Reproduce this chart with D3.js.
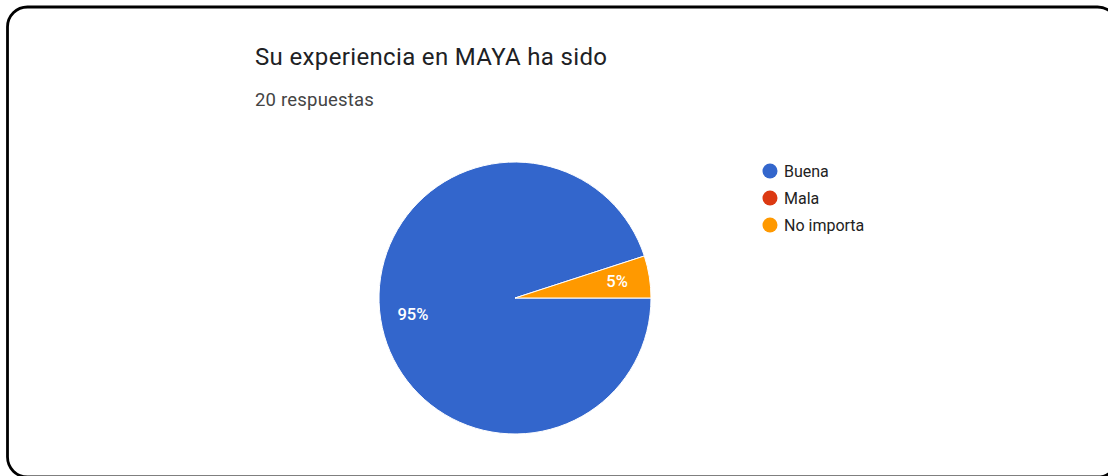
<!DOCTYPE html>
<html>
<head>
<meta charset="utf-8">
<script src="https://cdn.jsdelivr.net/npm/d3@7"></script>
<style>
  html, body { margin: 0; padding: 0; background: #fff; }
  svg { display: block; }
</style>
</head>
<body>
<svg id="chart" width="1108" height="476"></svg>
<script>
// Survey answers
const categories = ["Buena", "Mala", "No importa"];
const counts = [19, 0, 1];
const colors = ["#3366cc", "#dc3912", "#ff9900"];
const title = "Su experiencia en MAYA ha sido";
const subtitle = "20 respuestas";

const svg = d3.select("#chart");
const font = "Roboto, Arial, sans-serif";

// Card outline
svg.append("rect")
  .attr("x", 7.5).attr("y", 7)
  .attr("width", 1110).attr("height", 470)
  .attr("rx", 20).attr("ry", 20)
  .attr("fill", "#fff")
  .attr("stroke", "#000")
  .attr("stroke-width", 2.8);

svg.append("text")
  .attr("x", 255).attr("y", 65)
  .attr("font-family", font).attr("font-size", 24)
  .attr("letter-spacing", 0.35)
  .attr("fill", "#202124")
  .text(title);

svg.append("text")
  .attr("x", 255).attr("y", 106)
  .attr("font-family", font).attr("font-size", 18.5)
  .attr("letter-spacing", 0.2)
  .attr("fill", "#444")
  .text(subtitle);

// Pie
const cx = 515, cy = 298, R = 136;
const total = d3.sum(counts);
const data = categories.map((c, i) => ({ cat: c, value: counts[i], color: colors[i] }));

const pie = d3.pie()
  .value(d => d.value)
  .sort(null)
  .startAngle(Math.PI / 2)
  .endAngle(Math.PI / 2 + 2 * Math.PI);

const arc = d3.arc().innerRadius(0).outerRadius(R);
const labelArc = d3.arc().innerRadius(R * 0.76).outerRadius(R * 0.76);

const g = svg.append("g").attr("transform", `translate(${cx},${cy})`);
const arcs = pie(data).filter(d => d.data.value > 0);

g.selectAll("path.slice")
  .data(arcs)
  .join("path")
  .attr("class", "slice")
  .attr("d", arc)
  .attr("fill", d => d.data.color)
  .attr("stroke", "#fff")
  .attr("stroke-width", 1);

g.selectAll("text.pct")
  .data(arcs)
  .join("text")
  .attr("class", "pct")
  .attr("transform", d => `translate(${labelArc.centroid(d)})`)
  .attr("text-anchor", "middle")
  .attr("dominant-baseline", "central")
  .attr("font-family", font).attr("font-size", 16.5)
  .attr("font-weight", 500)
  .attr("fill", "#fff")
  .text(d => Math.round(d.data.value / total * 100) + "%");

// Legend
const legend = svg.append("g").attr("transform", "translate(770,171)");
const items = legend.selectAll("g")
  .data(data)
  .join("g")
  .attr("transform", (d, i) => `translate(0,${i * 27})`);
items.append("circle")
  .attr("r", 7.5)
  .attr("fill", d => d.color);
items.append("text")
  .attr("x", 14)
  .attr("dominant-baseline", "central")
  .attr("font-family", font).attr("font-size", 16)
  .attr("fill", "#222")
  .text(d => d.cat);
</script>
</body>
</html>
